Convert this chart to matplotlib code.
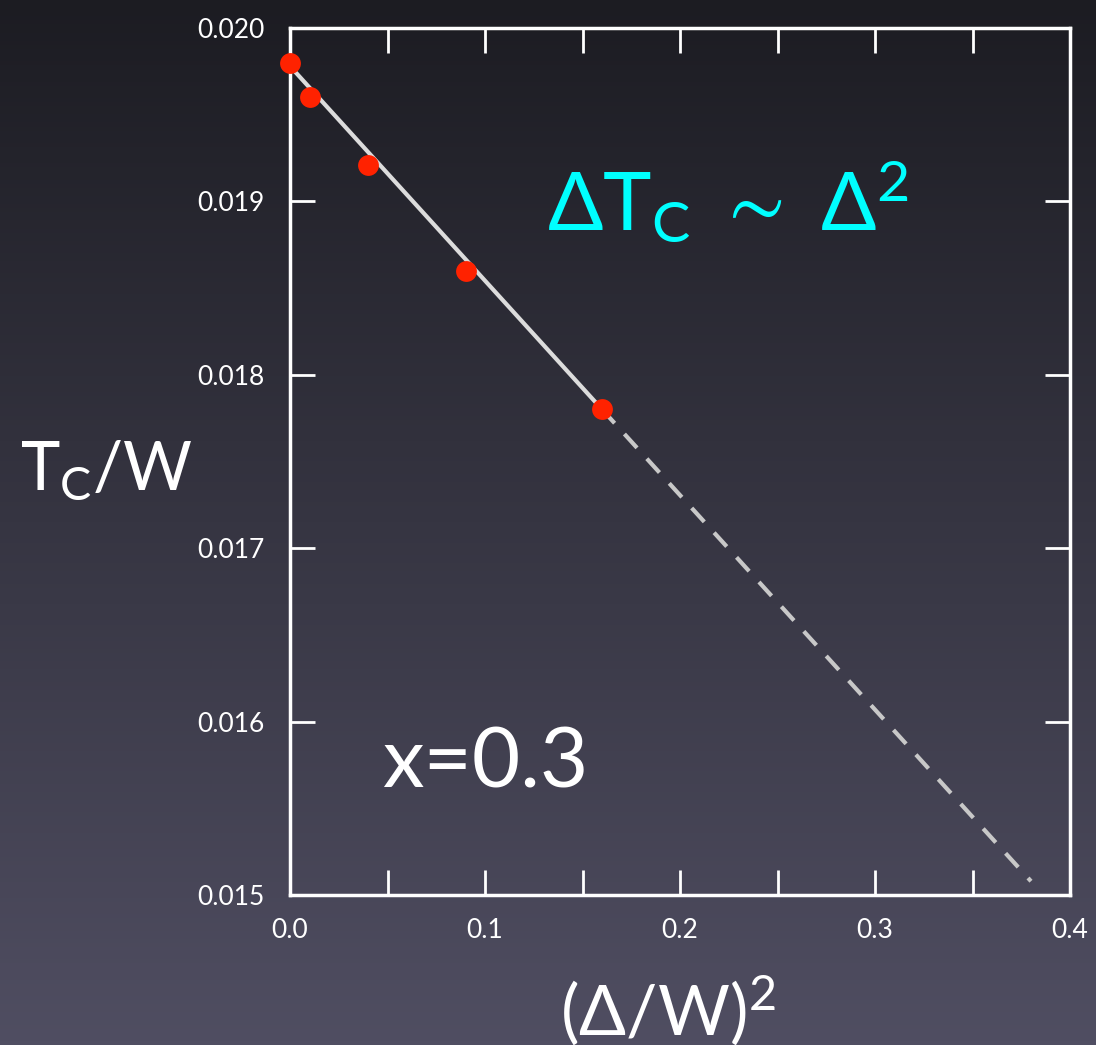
import numpy as np
import matplotlib.pyplot as plt
from matplotlib.ticker import MultipleLocator, NullFormatter

plt.rcParams['font.family'] = ['Lato', 'DejaVu Sans']
plt.rcParams['mathtext.fontset'] = 'custom'
plt.rcParams['mathtext.rm'] = 'Lato'
plt.rcParams['mathtext.it'] = 'Lato'
plt.rcParams['mathtext.fallback'] = 'stixsans'

# data points
delta2 = [0.0, 0.01, 0.04, 0.09, 0.16]
tc = [0.0198, 0.0196, 0.01921, 0.0186, 0.0178]

# linear fit line: solid over data, dashed extrapolation
fit_x_solid = [0.0, 0.16]
fit_x_dash = [0.16, 0.38]
fit_a = 0.01978
fit_b = -0.01237

xtick_labels = ['0.0', '0.1', '0.2', '0.3', '0.4']

fig = plt.figure(figsize=(10.96, 10.45), dpi=100)

# gradient background
bg = fig.add_axes([0, 0, 1, 1], zorder=-10)
grad = np.linspace(0, 1, 256).reshape(-1, 1)
top = np.array([0x1c, 0x1c, 0x22]) / 255
bot = np.array([0x50, 0x4e, 0x62]) / 255
img = top[None, None, :] * (1 - grad[:, :, None]) + bot[None, None, :] * grad[:, :, None]
bg.imshow(img, aspect='auto', extent=[0, 1, 0, 1])
bg.axis('off')

ax = fig.add_axes([290 / 1096, 1 - 895 / 1045, 780 / 1096, 867 / 1045])
ax.patch.set_alpha(0)

xs = np.array(fit_x_solid)
xd = np.array(fit_x_dash)
ax.plot(xs, fit_a + fit_b * xs, color='#dcdcdc', lw=3, zorder=2)
ax.plot(xd, fit_a + fit_b * xd, color='#c8c8c8', lw=3, ls=(0, (4.5, 3.5)), zorder=2)
ax.plot(delta2, tc, 'o', color='#ff2200', ms=15, mec='none', zorder=3, clip_on=False)

ax.set_xlim(0, 0.4)
ax.set_ylim(0.015, 0.020)
ax.xaxis.set_major_locator(MultipleLocator(0.05))
ax.xaxis.set_major_formatter(NullFormatter())
ax.yaxis.set_major_locator(MultipleLocator(0.001))
ax.yaxis.set_major_formatter(lambda v, p: '%.3f' % v)
ax.tick_params(which='both', direction='in', length=18, width=2, color='white',
               top=True, right=True, labelsize=19, labelcolor='white')
ax.tick_params(axis='y', pad=18)
for s in ax.spines.values():
    s.set_color('white')
    s.set_linewidth(2.5)

for i, lab in enumerate(xtick_labels):
    ax.text(i * 0.1, -0.027, lab, transform=ax.get_xaxis_transform(),
            ha='center', va='top', color='white', fontsize=19)

ax.text(0.047, 0.01575, 'x=0.3', color='white', fontsize=60, ha='left', va='center')
ax.text(0.33, 0.8, r'$\Delta\mathrm{T_C}\ \sim\ \Delta^2$', transform=ax.transAxes,
        color='#00ffff', fontsize=59, ha='left', va='center')

fig.text(20 / 1096, 1 - 470 / 1045, r'$\mathrm{T_C/W}$', color='white', fontsize=48,
         ha='left', va='center')
fig.text(668 / 1096, 1 - 1010 / 1045, r'$(\Delta/\mathrm{W})^2$', color='white',
         fontsize=50, ha='center', va='center')

fig.savefig('out.png', dpi=100)
